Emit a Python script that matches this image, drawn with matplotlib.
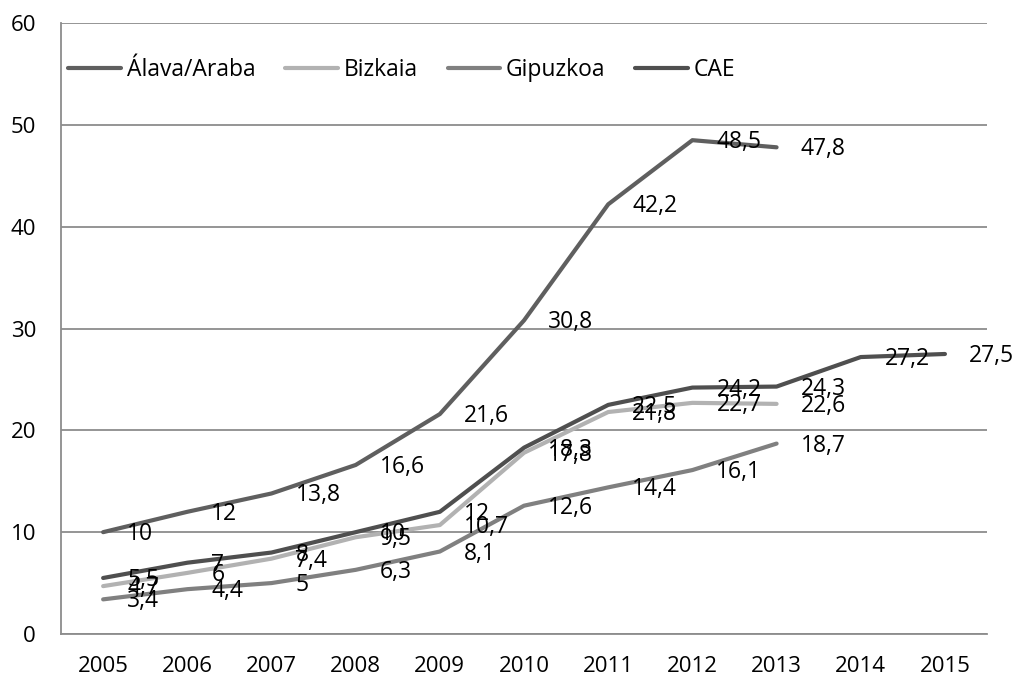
import matplotlib
matplotlib.use("Agg")
import matplotlib.pyplot as plt

plt.rcParams['font.family'] = ['Open Sans', 'DejaVu Sans']

years = ['2005', '2006', '2007', '2008', '2009', '2010', '2011',
         '2012', '2013', '2014', '2015']
alava = [10, 12, 13.8, 16.6, 21.6, 30.8, 42.2, 48.5, 47.8]
bizkaia = [4.7, 6, 7.4, 9.5, 10.7, 17.8, 21.8, 22.7, 22.6]
gipuzkoa = [3.4, 4.4, 5, 6.3, 8.1, 12.6, 14.4, 16.1, 18.7]
cae = [5.5, 7, 8, 10, 12, 18.3, 22.5, 24.2, 24.3, 27.2, 27.5]

series = [
    ('Álava/Araba', alava, '#5f5f5f'),
    ('Bizkaia', bizkaia, '#b2b2b2'),
    ('Gipuzkoa', gipuzkoa, '#808080'),
    ('CAE', cae, '#4f4f4f'),
]

fig = plt.figure(figsize=(10.14, 6.79), dpi=100)
ax = fig.add_axes([0.0602, 0.0663, 0.9132, 0.8997])

x_all = list(range(len(years)))
for name, vals, color in series:
    xs = x_all[:len(vals)]
    ax.plot(xs, vals, color=color, lw=3.0, solid_capstyle='round',
            solid_joinstyle='round', label=name, zorder=3)
for name, vals, color in series:
    xs = x_all[:len(vals)]
    for xi, v in zip(xs, vals):
        txt = f"{v:g}".replace('.', ',')
        ax.annotate(txt, (xi, v), xytext=(24, -2), textcoords='offset pixels',
                    ha='left', va='center', fontsize=16.5, color='black',
                    zorder=4)

ax.set_xlim(-0.5, len(years) - 0.5)
ax.set_ylim(0, 60)
ax.set_yticks(range(0, 61, 10))
ax.set_xticks(x_all)
ax.set_xticklabels(years)
ax.yaxis.grid(True, color='#8c8c8c', lw=1.3)
ax.set_axisbelow(True)
for s in ['top', 'right']:
    ax.spines[s].set_visible(False)
ax.spines['left'].set_color('#8c8c8c')
ax.spines['left'].set_linewidth(1.3)
ax.spines['bottom'].set_color('#8c8c8c')
ax.spines['bottom'].set_linewidth(1.3)
ax.tick_params(axis='both', length=0, labelsize=16)
ax.tick_params(axis='y', pad=18)
ax.tick_params(axis='x', pad=16)

leg = ax.legend(loc='center left', bbox_to_anchor=(-0.002, 0.923), ncol=4,
                frameon=False, fontsize=16.5, handlelength=2.3,
                handletextpad=0.25, columnspacing=1.3, borderaxespad=0)

fig.savefig('out.png', dpi=100)
